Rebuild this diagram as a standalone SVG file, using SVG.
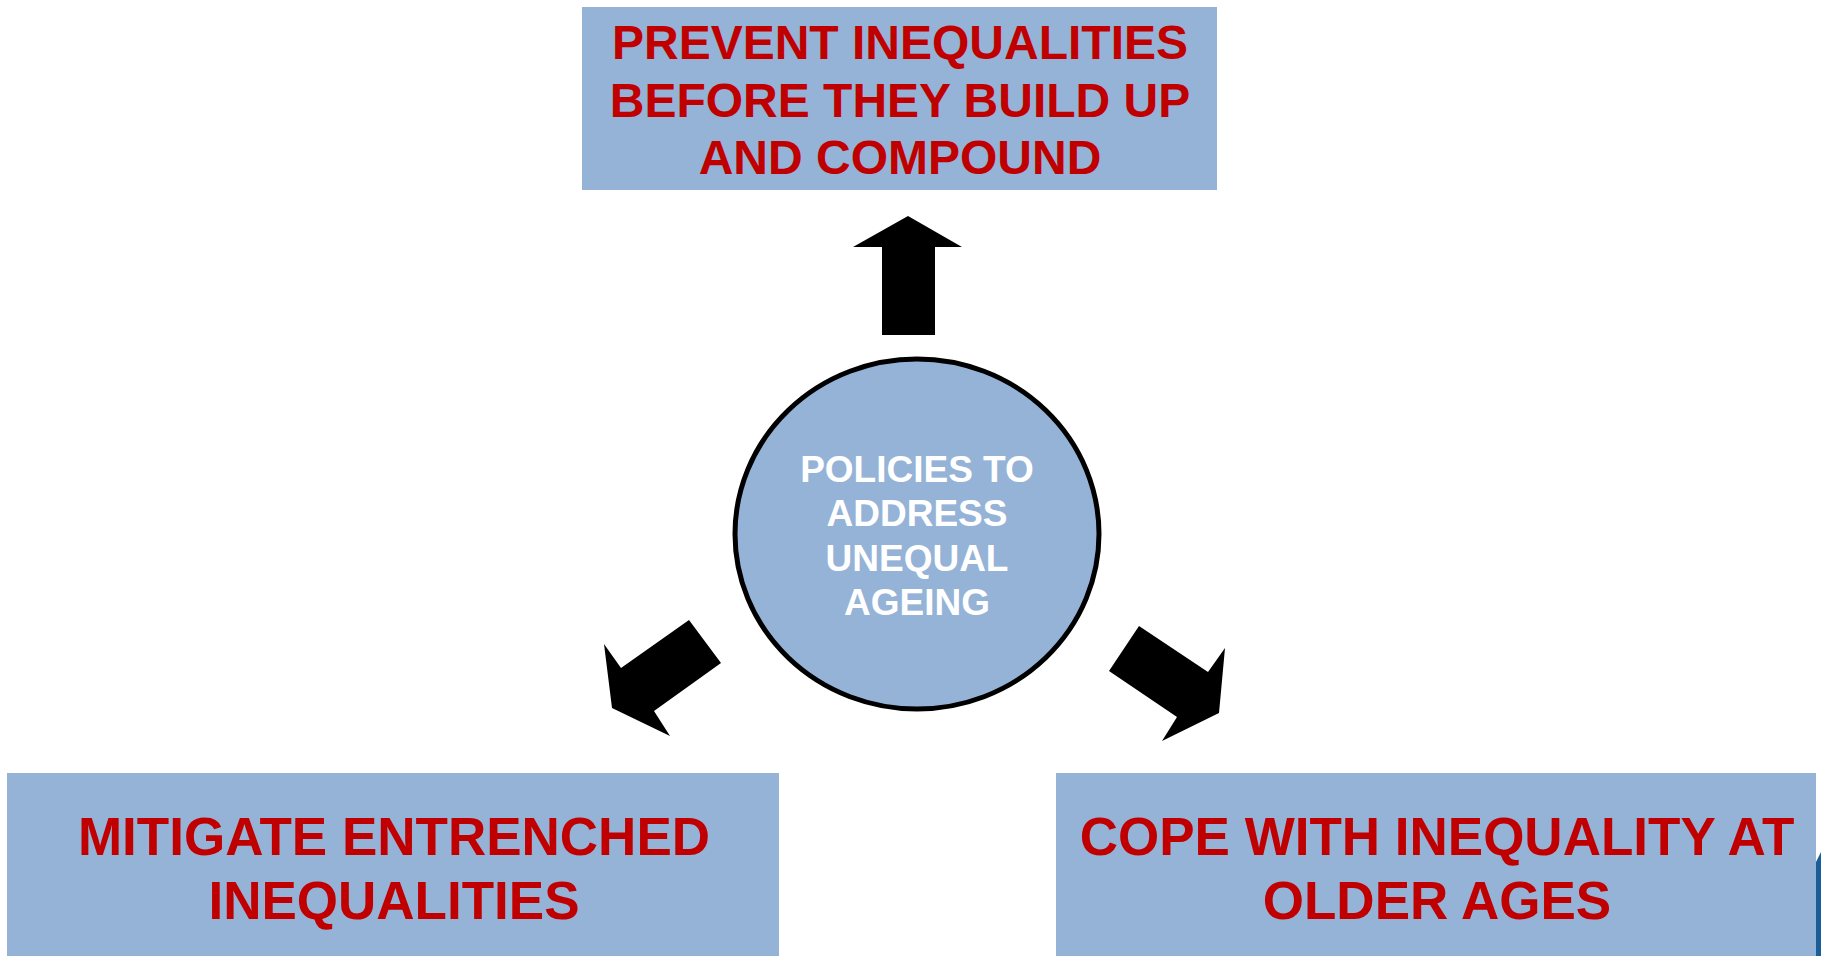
<svg xmlns="http://www.w3.org/2000/svg" width="1821" height="956" viewBox="0 0 1821 956">
  <style>
    .box { fill: #95B3D7; }
    .label { font-family: "Liberation Sans", Arial, sans-serif; font-weight: bold; fill: #C00000; text-anchor: middle; }
    .hub { fill: #95B3D7; stroke: #000; stroke-width: 5; }
    .hub-text { font-family: "Liberation Sans", Arial, sans-serif; font-weight: bold; font-size: 37px; fill: #FFFFFF; text-anchor: middle; }
    .arrow { fill: #000; }
  </style>
  <rect x="0" y="0" width="1821" height="956" fill="#FFFFFF"/>

  <!-- edge of a neighbouring shape at the right border -->
  <polygon points="1816,862 1821,852 1821,956 1816,956" fill="#1B5E97"/>

  <g id="node-prevent">
    <rect class="box" x="582" y="7" width="635" height="183"/>
    <text class="label" font-size="48" x="900" y="59">PREVENT INEQUALITIES</text>
    <text class="label" font-size="48" x="900" y="117">BEFORE THEY BUILD UP</text>
    <text class="label" font-size="48" x="900" y="174">AND COMPOUND</text>
  </g>

  <g id="node-policies">
    <ellipse class="hub" cx="917" cy="534" rx="182" ry="175"/>
    <text class="hub-text" x="917" y="482">POLICIES TO</text>
    <text class="hub-text" x="917" y="526">ADDRESS</text>
    <text class="hub-text" x="917" y="571">UNEQUAL</text>
    <text class="hub-text" x="917" y="615">AGEING</text>
  </g>

  <g id="node-mitigate">
    <rect class="box" x="7" y="773" width="772" height="190"/>
    <text class="label" font-size="53" x="394" y="855">MITIGATE ENTRENCHED</text>
    <text class="label" font-size="53" x="394" y="919">INEQUALITIES</text>
  </g>

  <g id="node-cope">
    <rect class="box" x="1056" y="773" width="760" height="190"/>
    <text class="label" font-size="53" x="1437" y="855">COPE WITH INEQUALITY AT</text>
    <text class="label" font-size="53" x="1437" y="919">OLDER AGES</text>
  </g>

  <g id="connectors">
    <polygon class="arrow" points="908,216 962,247 935,247 935,335 882,335 882,247 853,247"/>
    <polygon class="arrow" points="689,620 721,663 654,711 670,736 612,708 604,644 621,668"/>
    <polygon class="arrow" points="1139,626 1109,671 1177,717 1162,741 1219,713 1225,648 1208,672"/>
  </g>
</svg>
